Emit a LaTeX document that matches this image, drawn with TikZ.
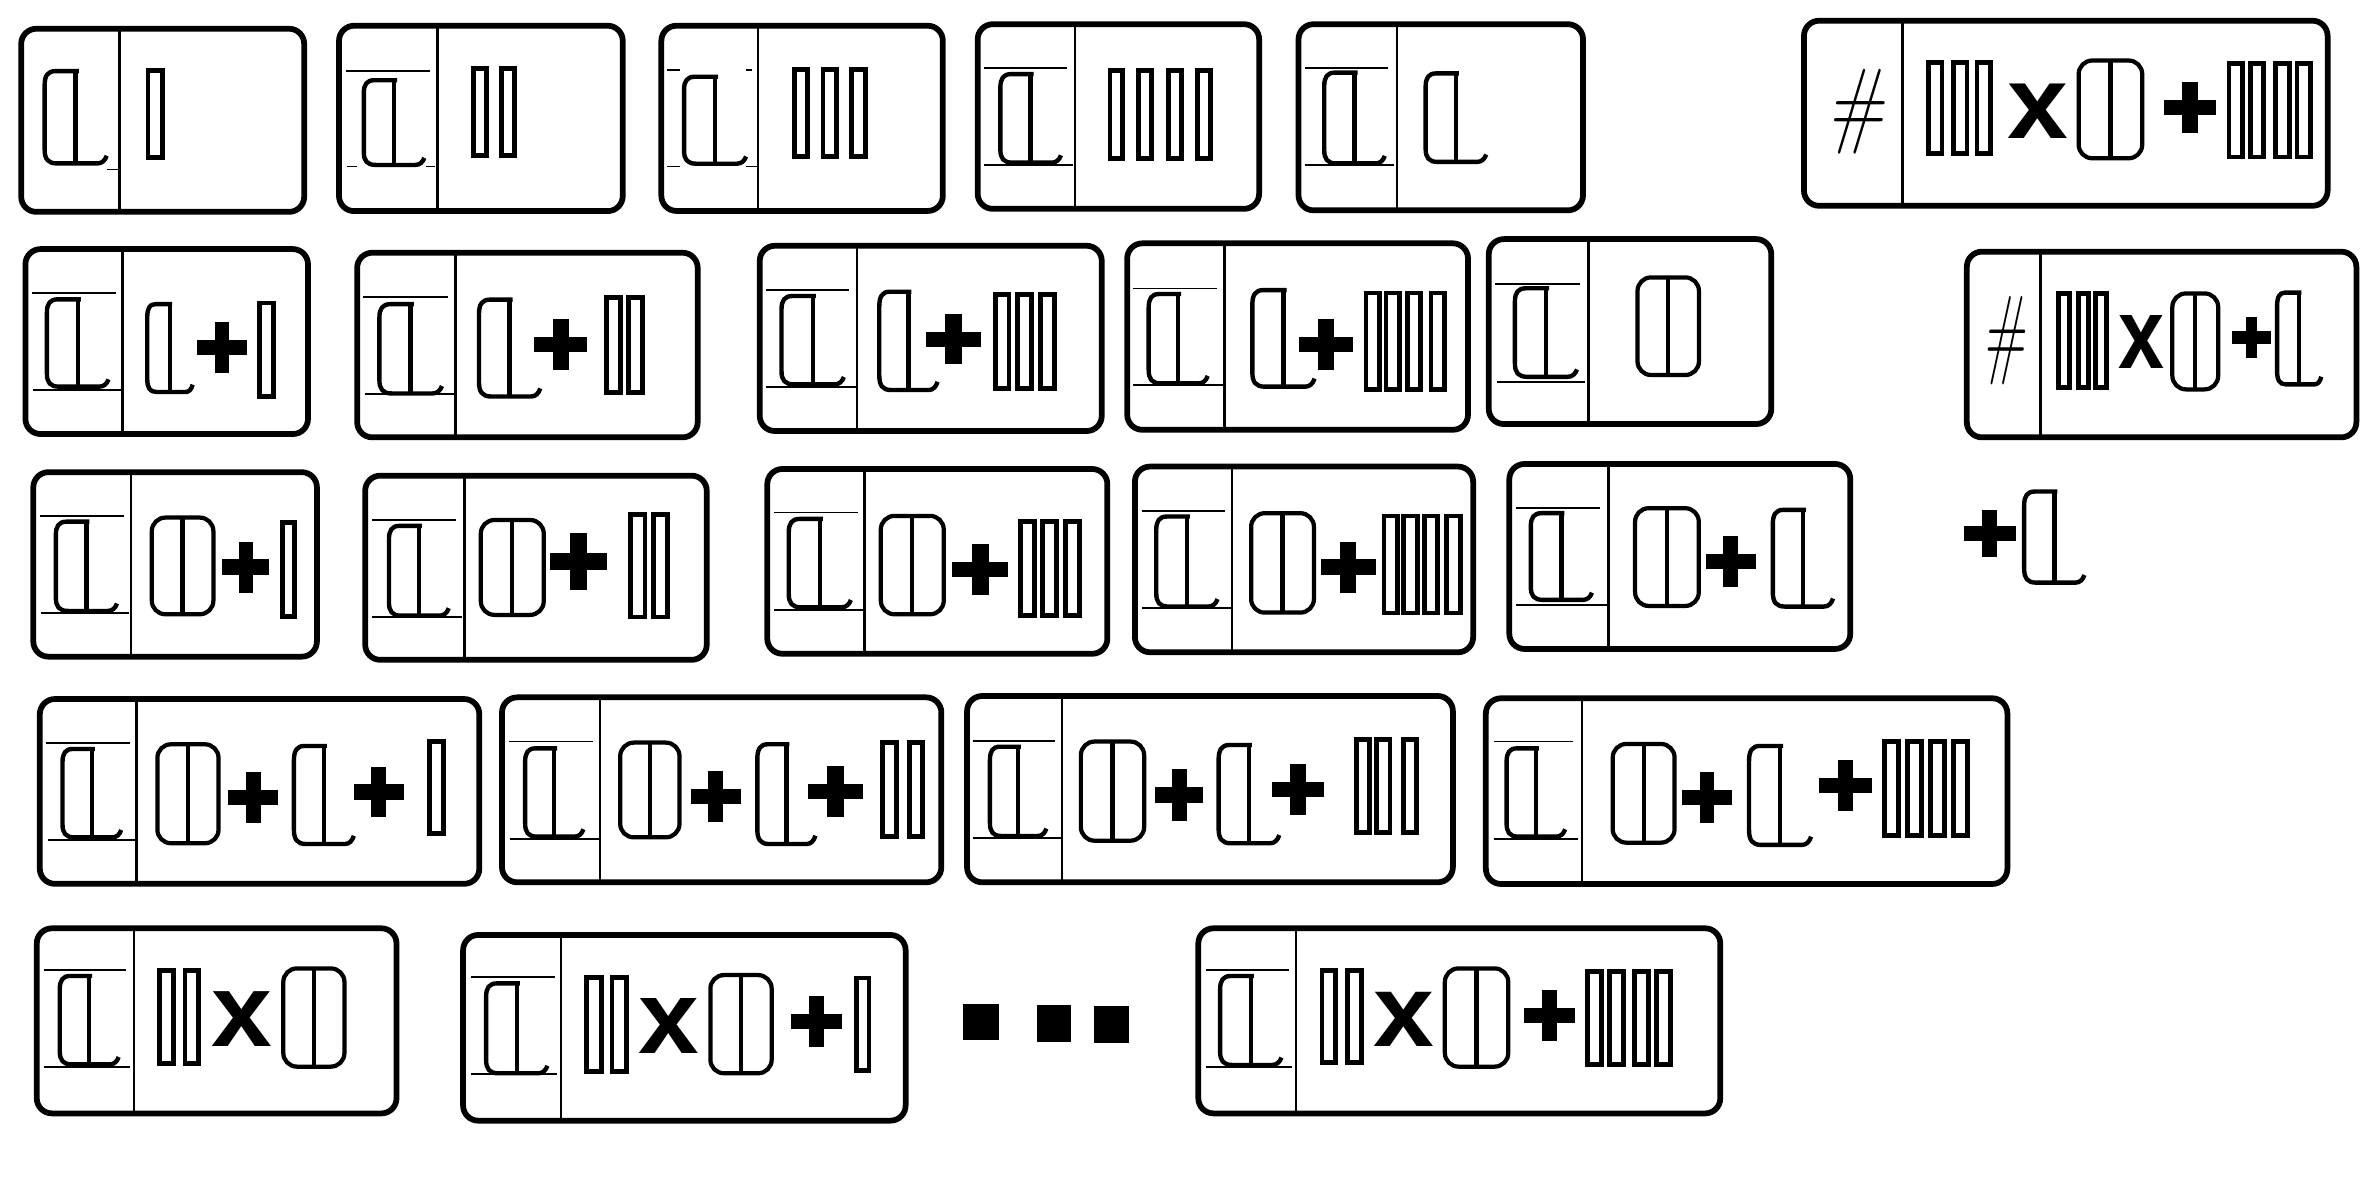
\documentclass[tikz,border=0pt]{standalone}
\usepackage{fontspec}
\newfontfamily\xfont{Liberation Sans}
\tikzset{
  cardline/.style={line width=1.9pt, rounded corners=5pt},
  divline/.style={line width=0.8pt},
  guide/.style={line width=0.6pt},
  lstroke/.style={line width=1.45pt, line join=round},
  bstroke/.style={line width=1.6pt},
  ostroke/.style={line width=1.4pt},
  xg/.style={inner sep=0pt, font=\xfont\bfseries\fontsize{20}{24}\selectfont},
  hg/.style={inner sep=0pt, font=\fontsize{20}{24}\selectfont},
}
\newcommand\card[5]{%
  \draw[cardline] (#1,#2) rectangle (#3,#4);
  \draw[divline] (#5,#2) -- (#5,#4);}
\newcommand\Lg[4]{%
  \begin{scope}[shift={(#1,#2)},xscale=#3/40,yscale=#4/60]
    \draw[lstroke] (22,0) -- (7,0) .. controls (2,0) and (0,3) .. (0,9) -- (0,51)
      .. controls (0,57) and (2,60) .. (8,60) -- (34,60) .. controls (37,60) and (39,58) .. (40,55);
    \draw[lstroke] (20,0) -- (20,60);
  \end{scope}}
\newcommand\Og[4]{%
  \draw[ostroke, rounded corners=4.5pt] (#1,#2) rectangle ({#1+#3},{#2+#4});
  \draw[ostroke] ({#1+#3/2},#2) -- ({#1+#3/2},{#2+#4});}
\newcommand\Pg[4]{%
  \fill ({#1},{#2+0.35*#4}) rectangle ({#1+#3},{#2+0.65*#4});
  \fill ({#1+0.35*#3},{#2}) rectangle ({#1+0.65*#3},{#2+#4});}
\newcommand\Bg[4]{%
  \draw[bstroke] ({#1+0.8},{#2+0.8}) rectangle ({#1+#3-0.8},{#2+#4-0.8});}
\newcommand\Bars[4]{\foreach \bx in {#1} {\Bg{\bx}{#3}{#2}{#4}}}
\newcommand\Xg[5]{%
  \node[xg, xscale={#4/21.6}, yscale={#5/20.76}, anchor=base] (#1) at ({#2+#4/2},{#3+#5}) {x};}
\newcommand\Hg[5]{%
  \node[hg, xscale={#4/34.2}, yscale={#5/35.5}, xslant=0.15] (#1) at (#2,#3) {\#};}
\begin{document}
\begin{tikzpicture}[x=0.5pt,y=-0.5pt]
\useasboundingbox (0,0) rectangle (1568,779);
% ---------- row A
\card{14}{19}{201}{140}{79}
\Lg{29.5}{47}{41}{61}
\Bg{97}{46}{11}{59}
\draw[guide] (71,112) -- (78,112);
%
\card{224}{17}{411.5}{139.5}{289}
\draw[guide] (228.6,46.7) -- (283.8,46.7);
\draw[guide] (229.5,110) -- (236,110);
\draw[guide] (281.7,110) -- (287.6,110);
\Lg{240.4}{53}{40}{56}
\Bars{312,330.4}{10.5}{44.7}{59}
%
\card{437}{17}{623}{139.4}{501}
\draw[guide] (441,46) -- (449,46);
\draw[guide] (493,46) -- (497,46);
\draw[guide] (441,110) -- (449,110);
\draw[guide] (493,110) -- (501,110);
\Lg{452}{50.7}{41}{57.5}
\Bars{524,543,562}{10.5}{45}{59}
%
\card{646}{16}{832}{138}{710.5}
\draw[guide] (650,45) -- (705,45);
\draw[guide] (650,109) -- (709,109);
\Lg{661}{49}{40}{58.5}
\Bars{732.6,751.4,771.4,790.6}{10}{45.6}{59.7}
%
\card{858}{16}{1046}{139}{923}
\draw[guide] (862,45) -- (917,45);
\draw[guide] (862,109) -- (921,109);
\Lg{875}{48}{40}{60}
\Lg{942}{48.5}{40}{58.5}
%
\card{1192}{13.7}{1538}{136}{1257}
\Hg{h1}{1228.7}{74}{40.5}{56}
\Bars{1273.5,1290,1305.5}{10.5}{40.7}{61.7}
\Xg{x1}{1327}{56}{39}{35.4}
\Og{1373.5}{40}{42}{64.6}
\Pg{1430}{54}{34}{33.7}
\Bars{1472,1486,1503,1517}{10.5}{41.4}{63.2}
% ---------- row B
\card{16.8}{164.6}{203.5}{286.8}{81}
\draw[guide] (21,193.4) -- (76.7,193.4);
\draw[guide] (22,257.7) -- (80,257.7);
\Lg{31}{197.8}{40.7}{57.7}
\Lg{97.3}{201}{30}{58}
\Pg{130.4}{212.6}{32.6}{33.7}
\Bg{170.5}{199.4}{10.9}{63.2}
%
\card{236}{167}{461}{289}{301}
\draw[guide] (240,196.5) -- (296,196.5);
\draw[guide] (241,260.4) -- (300,260.4);
\Lg{250.7}{201}{41.3}{59}
\Lg{316.5}{198}{40.5}{64}
\Pg{353}{211}{35}{33.5}
\Bars{399.7,414.5}{10.9}{196}{64}
%
\card{502}{162.4}{728}{284.8}{566.4}
\draw[guide] (506,191.7) -- (561,191.7);
\draw[guide] (506,255.5) -- (566,255.5);
\Lg{516.4}{195.6}{41.2}{58.4}
\Lg{581}{192.8}{38.5}{64.9}
\Pg{612}{207.7}{36}{33.1}
\Bars{657,671.7,686.8}{10.5}{193.9}{63.4}
%
\card{744.8}{160.8}{970}{284}{809}
\draw[guide] (748.7,190.6) -- (804,190.6);
\draw[guide] (748.7,254.4) -- (808.5,254.4);
\Lg{759}{194.3}{39}{59}
\Lg{827.5}{191.7}{41.1}{63.8}
\Pg{858.5}{210.8}{35.5}{33.7}
\Bars{901.8,915,929,944.7}{10.5}{192.8}{65.2}
%
\card{983.7}{158}{1170.4}{280.2}{1049.6}
\draw[guide] (988,187.7) -- (1044,187.7);
\draw[guide] (989,252.2) -- (1047,252.2);
\Lg{1001}{190.5}{41}{58.5}
\Og{1082}{183.3}{40.6}{64.5}
%
\card{1299.6}{166.3}{1557}{289}{1348.2}
\Hg{h2}{1326}{225.2}{30}{58.4}
\Bars{1359.5,1372.5,1384}{8.5}{193.4}{63.2}
\Xg{x2}{1400}{209}{29.5}{34.4}
\Og{1435.4}{193.9}{30.3}{63.4}
\Pg{1474.6}{209.3}{26.1}{27.5}
\Lg{1504.6}{193.4}{29.2}{60.6}
% ---------- row C
\card{22}{312}{209.4}{433.9}{86.4}
\draw[guide] (26.5,340.9) -- (81.7,340.9);
\draw[guide] (27,405.2) -- (85.5,405.2);
\Lg{36.9}{344.7}{40.4}{59}
\Og{100.3}{342}{40.7}{63.9}
\Pg{147}{357.9}{31}{33.7}
\Bg{185.8}{344.7}{9.8}{63.2}
%
\card{241.3}{314.3}{467}{436}{306.8}
\draw[guide] (245.7,343.6) -- (301,343.6);
\draw[guide] (246,407.9) -- (305,407.9);
\Lg{257}{347.5}{39.5}{59.3}
\Og{317.7}{343.6}{41.6}{62.7}
\Pg{363.7}{352.4}{37.3}{37.4}
\Bars{416,431}{11}{339}{69.5}
%
\card{507}{309.9}{731.7}{432}{571.3}
\draw[guide] (511.5,338.7) -- (566.7,338.7);
\draw[guide] (511.5,403) -- (571.3,403);
\Lg{521.2}{342.9}{41}{58.4}
\Og{582}{340.9}{41.6}{65}
\Pg{629.3}{359.6}{36.9}{33.5}
\Bars{673.6,687.9,703.2}{11}{343.6}{63.8}
%
\card{749.9}{308.3}{973.4}{431}{814}
\draw[guide] (754.4,337.6) -- (809.6,337.6);
\draw[guide] (754.4,401.9) -- (814,401.9);
\Lg{764}{341.3}{40.5}{59.5}
\Og{826.7}{339.1}{41.5}{65.7}
\Pg{872.7}{357.9}{36.3}{33.7}
\Bars{913.7,926.8,940.4,955.2}{10.5}{340.2}{65.7}
%
\card{997.3}{306.6}{1222.6}{428.8}{1062.7}
\draw[guide] (1001.8,335.8) -- (1057,335.8);
\draw[guide] (1001.8,399.7) -- (1062.7,399.7);
\Lg{1011.5}{339.1}{40.4}{57.3}
\Og{1080.4}{335.8}{42.1}{64.6}
\Pg{1127}{354.1}{33}{33.5}
\Lg{1171.4}{336.9}{39.8}{63.9}
% free +L
\Pg{1297.6}{336.9}{34.2}{31.3}
\Lg{1337.5}{324.8}{39.8}{60.2}
% ---------- row D
\card{26.3}{461.9}{316.7}{584}{90.2}
\draw[guide] (30.3,490.7) -- (85.8,490.7);
\draw[guide] (31.5,555) -- (89.8,555);
\Lg{41.3}{494.9}{38.8}{58.4}
\Og{104}{491.8}{40.4}{65.4}
\Pg{150.9}{509.9}{33.1}{33.7}
\Lg{194.2}{492.9}{39.6}{64.8}
\Pg{233.8}{506.6}{33.2}{33.4}
\Bg{283.2}{489}{10.8}{62.7}
%
\card{331.7}{460.8}{622}{583}{396.4}
\draw[guide] (336.6,490) -- (391.6,490);
\draw[guide] (337,554.6) -- (395.6,554.6);
\Lg{347}{494.5}{38.5}{58.3}
\Og{409.8}{490.7}{39.2}{62.6}
\Pg{456.3}{509.4}{33.2}{33.6}
\Lg{500.4}{491.8}{38.4}{65.9}
\Pg{534}{506.1}{36.4}{33.5}
\Bars{582.5,600}{10.5}{490}{63.3}
%
\card{639}{459.9}{960}{583}{701.9}
\draw[guide] (642.7,489.6) -- (696.9,489.6);
\draw[guide] (642.7,553.9) -- (701.4,553.9);
\Lg{654.1}{493.4}{37.3}{59}
\Og{714.2}{490}{41.8}{65.5}
\Pg{763.3}{508.3}{31.9}{34}
\Lg{805.2}{492.3}{40.1}{64.9}
\Pg{840.7}{504.8}{34.2}{33.7}
\Bars{895.3,909,926.7}{10.3}{487.8}{63.3}
%
\card{981.8}{461.4}{1326.4}{584.1}{1045.5}
\draw[guide] (987.3,490) -- (1039.6,490);
\draw[guide] (987.3,554.6) -- (1042.8,554.6);
\Lg{995.5}{494.5}{38.7}{58.3}
\Og{1065.6}{491.6}{40.9}{65.2}
\Pg{1111.5}{509.9}{32.8}{33.7}
\Lg{1155.7}{492.9}{41}{65.4}
\Pg{1202.1}{502.2}{34.6}{33.4}
\Bars{1244.4,1259.5,1275,1290}{10.7}{489}{63.8}
% ---------- row E
\card{24.3}{613.4}{262}{735.7}{88.5}
\draw[guide] (28.8,641) -- (83.5,641);
\draw[guide] (28.8,705.3) -- (86,705.3);
\Lg{39.5}{644.9}{38.9}{58.4}
\Bars{104.7,121.4}{10.8}{640.3}{63.4}
\Xg{x3}{140.6}{656}{39}{35.6}
\Og{187.2}{639.9}{40.4}{64.9}
%
\card{306}{617.8}{598.4}{740.5}{370.8}
\draw[guide] (311,645.8) -- (366.7,645.8);
\draw[guide] (311,709.7) -- (368.2,709.7);
\Lg{321.2}{649.8}{40.5}{59.4}
\Bars{387,403.6}{11}{644.9}{63.9}
\Xg{x4}{422.4}{660.3}{38.9}{35.7}
\Og{469.4}{644.3}{40.5}{64.9}
\Pg{522.5}{658.1}{33.9}{33.5}
\Bg{565}{645.4}{10}{62.7}
% dots
\fill (636,663.4) rectangle (660,687.2);
\fill (685,664) rectangle (708,688.3);
\fill (723,664.7) rectangle (746,689);
%
\card{791.8}{613.4}{1136.7}{735.7}{856.3}
\draw[guide] (796.9,641) -- (851.8,641);
\draw[guide] (796.9,704.8) -- (853.5,704.8);
\Lg{806.2}{644.9}{40.5}{58.8}
\Bars{872.7,889.7}{10.7}{640.5}{62.6}
\Xg{x5}{908.1}{656.4}{39}{35.2}
\Og{954.7}{639.9}{41.9}{64.9}
\Pg{1006.8}{654.2}{34.1}{33.5}
\Bars{1048.2,1062.9,1079.3,1093.7}{10.8}{641.4}{63}
\end{tikzpicture}
\end{document}
